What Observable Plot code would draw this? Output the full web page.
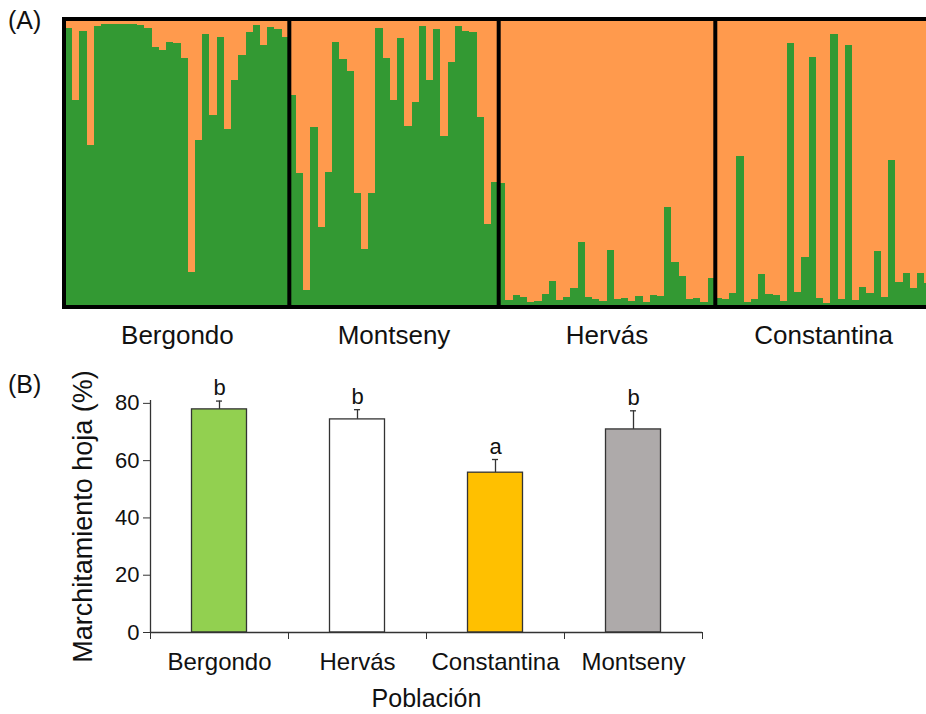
<!DOCTYPE html>
<html><head><meta charset="utf-8">
<script src="https://cdn.jsdelivr.net/npm/d3@7"></script>
<script src="https://cdn.jsdelivr.net/npm/@observablehq/plot@0.6"></script>
<style>
html,body{margin:0;padding:0;background:#fff;overflow:hidden;width:926px;height:714px;}
#wrap{position:relative;width:926px;height:714px;overflow:hidden;font-family:"Liberation Sans",Arial,sans-serif;}
#a{position:absolute;left:0;top:0;width:940px;}
#b{position:absolute;left:0;top:360px;}
#wrap svg{max-width:none !important;}
.lab{position:absolute;font-size:25px;color:#111;line-height:1;}
</style></head><body>
<div id="wrap"><div id="a"></div><div id="b"></div>
<div class="lab" style="left:8px;top:8px">(A)</div>
<div class="lab" style="left:8px;top:372px">(B)</div></div>
<script>
// ---- Panel A: membership (green cluster proportion) per individual ----
const popNames = ["Bergondo", "Montseny", "Hervás", "Constantina"];
const bergondo = [0.971,0.719,0.963,0.561,0.980,0.986,0.986,0.985,0.986,0.986,0.984,0.971,0.906,0.895,0.924,0.918,0.868,0.117,0.579,0.951,0.667,0.942,0.616,0.789,0.877,0.959,0.982,0.912,0.974,0.967,0.942];
const montseny = [0.737,0.462,0.053,0.623,0.273,0.465,0.922,0.863,0.821,0.392,0.195,0.392,0.971,0.865,0.719,0.938,0.629,0.713,0.979,0.789,0.967,0.594,0.854,0.980,0.963,0.957,0.658,0.284,0.430];
const hervas = [0.427,0.018,0.035,0.027,0.009,0.014,0.037,0.085,0.018,0.029,0.058,0.222,0.029,0.021,0.014,0.193,0.020,0.026,0.014,0.032,0.011,0.035,0.032,0.345,0.150,0.102,0.020,0.023,0.012,0.094];
const constantina = [0.023,0.020,0.041,0.524,0.009,0.020,0.109,0.039,0.035,0.014,0.918,0.047,0.170,0.869,0.026,0.008,0.951,0.020,0.912,0.018,0.064,0.041,0.191,0.027,0.509,0.082,0.111,0.058,0.111,0.076];

// ---- Panel B: leaf wilting ----
const categories = ["Bergondo", "Hervás", "Constantina", "Montseny"];
const means = [77.9, 74.4, 55.8, 70.9];
const errors = [2.9, 3.4, 4.6, 6.5];
const letters = ["b", "b", "a", "b"];
const barColors = ["#92D050", "#FFFFFF", "#FFC000", "#AEAAAA"];
const yTicks = [0, 20, 40, 60, 80];

const FONT = '"Liberation Sans", Arial, sans-serif';

// build individual table
const groups = [bergondo, montseny, hervas, constantina];
const ind = [];
const bounds = [];
const mids = [];
let idx = 0;
groups.forEach((g, p) => {
  const start = idx;
  g.forEach(v => { ind.push({i: idx, pop: popNames[p], g: v}); idx++; });
  mids.push((start + idx) / 2);
  if (p < groups.length - 1) bounds.push(idx);
});
const N = idx;

const plotA = Plot.plot({
  width: 940, height: 360,
  marginLeft: 65, marginRight: 8.6, marginTop: 20, marginBottom: 55,
  x: {domain: [0, N]},
  y: {domain: [0, 1], axis: null},
  style: {fontFamily: FONT, color: "#111", background: "transparent", maxWidth: "none"},
  marks: [
    Plot.rectY(ind, {x1: "i", x2: d => d.i + 1, y1: 0, y2: "g", fill: "#339933", shapeRendering: "crispEdges"}),
    Plot.rectY(ind, {x1: "i", x2: d => d.i + 1, y1: "g", y2: 1, fill: "#FF9A4D", shapeRendering: "crispEdges"}),
    Plot.ruleX(bounds, {stroke: "#000", strokeWidth: 4}),
    Plot.frame({stroke: "#000", strokeWidth: 4, inset: -1.5}),
    Plot.axisX({ticks: mids, tickSize: 0, tickPadding: 20, fontSize: 26, label: null,
      tickFormat: d => popNames[mids.indexOf(d)]})
  ]
});
document.getElementById("a").appendChild(plotA);

const bars = categories.map((c, k) => ({c, k, m: means[k], e: errors[k], l: letters[k]}));

const plotB = Plot.plot({
  width: 926, height: 354,
  marginLeft: 150, marginRight: 224, marginTop: 40, marginBottom: 82,
  x: {domain: [0, 4], axis: null},
  y: {domain: [0, 81], axis: null},
  color: {domain: categories, range: barColors},
  style: {fontFamily: FONT, color: "#111", background: "transparent", overflow: "visible"},
  marks: [
    Plot.ruleX(bars, {x: d => d.k + 0.5, y1: "m", y2: d => d.m + d.e, stroke: "#333", strokeWidth: 1.3}),
    Plot.ruleY(bars, {y: d => d.m + d.e, x1: d => d.k + 0.478, x2: d => d.k + 0.522, stroke: "#333", strokeWidth: 1.3}),
    Plot.rectY(bars, {x1: "k", x2: d => d.k + 1, y1: 0, y2: "m", fill: "c", stroke: "#333", strokeWidth: 1.3, insetLeft: 41.5, insetRight: 41.5}),
    Plot.text(bars, {x: d => d.k + 0.5, y: d => d.m + d.e, text: "l", dy: -6, lineAnchor: "bottom", fontSize: 22}),
    Plot.ruleX([0], {stroke: "#333", strokeWidth: 1.3}),
    Plot.ruleY([0], {stroke: "#333", strokeWidth: 1.3}),
    Plot.axisY({ticks: yTicks, tickSize: 7, tickPadding: 4, fontSize: 22, label: null, stroke: "#333"}),
    Plot.axisX({ticks: [0, 1, 2, 3, 4], tickSize: 7, tickFormat: () => "", label: null, stroke: "#333"}),
    Plot.axisX({ticks: categories.map((c, k) => k + 0.5), tickSize: 0, tickPadding: 20, fontSize: 24, label: null,
      tickFormat: d => categories[Math.floor(d)]}),
    Plot.text(["Población"], {frameAnchor: "bottom", dy: 66, lineAnchor: "middle", fontSize: 25}),
    Plot.text(["Marchitamiento hoja (%)"], {frameAnchor: "left", dx: -67, rotate: -90, textAnchor: "middle", fontSize: 27})
  ]
});
document.getElementById("b").appendChild(plotB);
</script>
</body></html>
